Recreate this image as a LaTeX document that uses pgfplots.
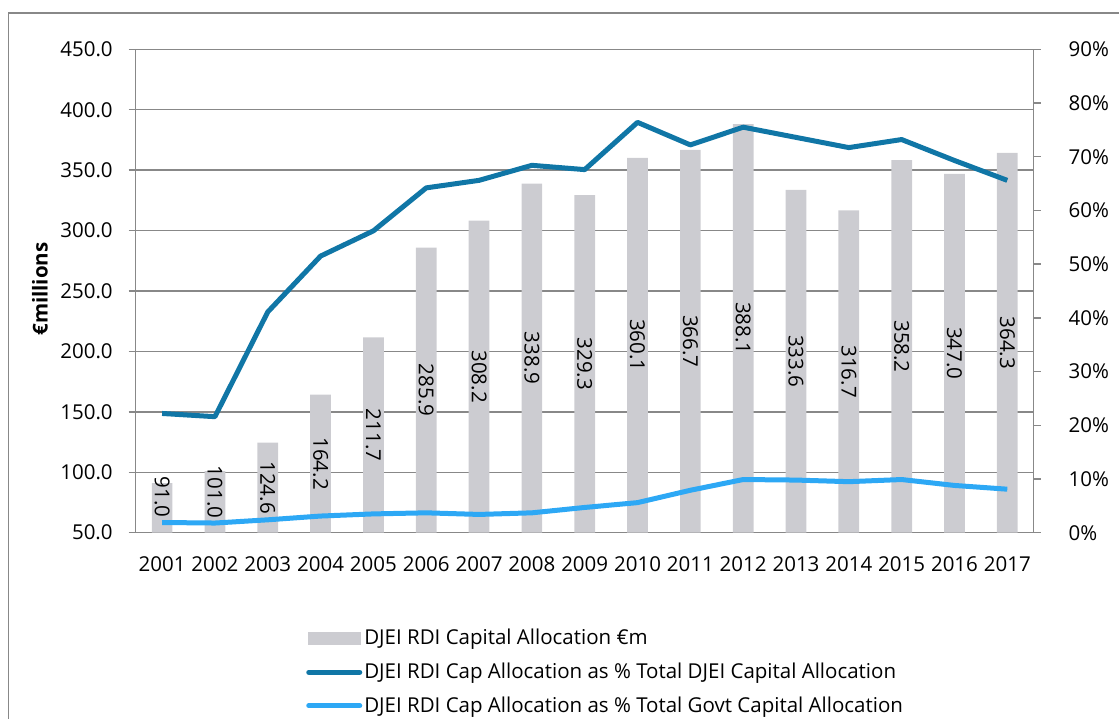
\documentclass[border=0pt]{standalone}
\usepackage{pgfplots}
\pgfplotsset{compat=1.18}
\usepackage{fontspec}
\setmainfont{Open Sans}
\definecolor{barcol}{RGB}{204,204,209}
\definecolor{darkblue}{RGB}{16,118,166}
\definecolor{lightblue}{RGB}{45,168,245}
\definecolor{gridcol}{RGB}{136,136,136}
\pgfplotstableread{
x v ly
0 91.0 79.5
1 101.0 83.6
2 124.6 87.3
3 164.2 107.1
4 211.7 130.85
5 285.9 167.95
6 308.2 179.1
7 338.9 194.45
8 329.3 189.65
9 360.1 205.05
10 366.7 208.35
11 388.1 219.05
12 333.6 191.8
13 316.7 183.35
14 358.2 204.1
15 347.0 198.5
16 364.3 207.15
}\bars
\pgfplotstableread{
x d l
0 22.2 1.9
1 21.6 1.8
2 41.1 2.4
3 51.5 3.1
4 56.2 3.5
5 64.2 3.7
6 65.6 3.4
7 68.4 3.7
8 67.6 4.7
9 76.4 5.6
10 72.2 7.9
11 75.5 9.9
12 73.6 9.8
13 71.7 9.5
14 73.2 9.9
15 69.3 8.8
16 65.6 8.1
}\pct
\begin{document}
\fontsize{20.5}{24}\selectfont
\begin{tikzpicture}
\path[use as bounding box] (0pt,0pt) rectangle (1119pt,-719pt);
\draw[gridcol, line width=1.5pt] (8.5pt,-725pt) -- (8.5pt,-13pt) -- (1125pt,-13pt);
\pgfplotsset{
  common/.style={
    at={(135.7pt,-532.7pt)}, anchor=south west,
    scale only axis, width=898pt, height=483.4pt,
    xmin=-0.5, xmax=16.5,
    /pgf/number format/assume math mode=true,
    tick align=outside,
    major tick length=7pt, minor tick length=7pt,
    axis line style={gridcol, line width=1.3pt, -},
    every tick/.style={gridcol, line width=1.3pt},
    tick label style={black},
  }
}
\begin{axis}[common,
  ymin=50, ymax=450, ytick={50,100,...,450},
  yticklabel style={/pgf/number format/.cd, fixed, fixed zerofill, precision=1, /tikz/.cd, xshift=-9pt},
  xticklabel style={yshift=-10pt},
  ytick pos=left, xtick pos=bottom,
  xtick={0,...,16},
  xticklabels={2001,2002,2003,2004,2005,2006,2007,2008,2009,2010,2011,2012,2013,2014,2015,2016,2017},
  xtick style={draw=none},
  minor xtick={-0.5,0.5,...,16.5},
  minor x tick style={gridcol, line width=1.3pt},
  ymajorgrids, grid style={gridcol, line width=1.3pt},
  ylabel={\bfseries €millions},
  every axis y label/.style={at={(axis description cs:-0.1066,0.504)}, rotate=90, anchor=center},
]
\addplot[ybar, bar width=20.7pt, fill=barcol, draw=none, bar shift=0pt] table[x=x, y=v] {\bars};
\addplot[draw=none, nodes near coords, point meta=explicit symbolic,
  every node near coord/.append style={anchor=center, rotate=-90, inner sep=0pt, black}]
  table[x=x, y=ly, meta=v] {\bars};
\end{axis}
\begin{axis}[common,
  ymin=0, ymax=90, ytick={0,10,...,90},
  axis x line=none,
  axis y line*=right, ytick pos=right,
  yticklabel={\pgfmathprintnumber{\tick}\%},
  yticklabel style={xshift=21pt},
  legend style={at={(axis description cs:0.1897,-0.195)}, anchor=north west,
    draw=none, fill=none, inner sep=0pt, row sep=11pt, font=\fontsize{20.5}{24}\selectfont},
  legend cell align=left,
  /tikz/every even column/.append style={column sep=6pt},
]
\addlegendimage{legend image code/.code={\fill[barcol] (0pt,-6pt) rectangle (52pt,6pt);}}
\addlegendentry{DJEI RDI Capital Allocation €m}
\addplot[darkblue, line width=5pt, line join=round, mark=none,
  legend image code/.code={\draw[darkblue, line width=5pt, line cap=round] (1pt,0pt) -- (52pt,0pt);}]
  table[x=x, y=d] {\pct};
\addlegendentry{DJEI RDI Cap Allocation as \% Total DJEI Capital Allocation}
\addplot[lightblue, line width=5pt, line join=round, mark=none,
  legend image code/.code={\draw[lightblue, line width=5pt, line cap=round] (1pt,0pt) -- (52pt,0pt);}]
  table[x=x, y=l] {\pct};
\addlegendentry{DJEI RDI Cap Allocation as \% Total Govt Capital Allocation}
\end{axis}
\end{tikzpicture}
\end{document}
